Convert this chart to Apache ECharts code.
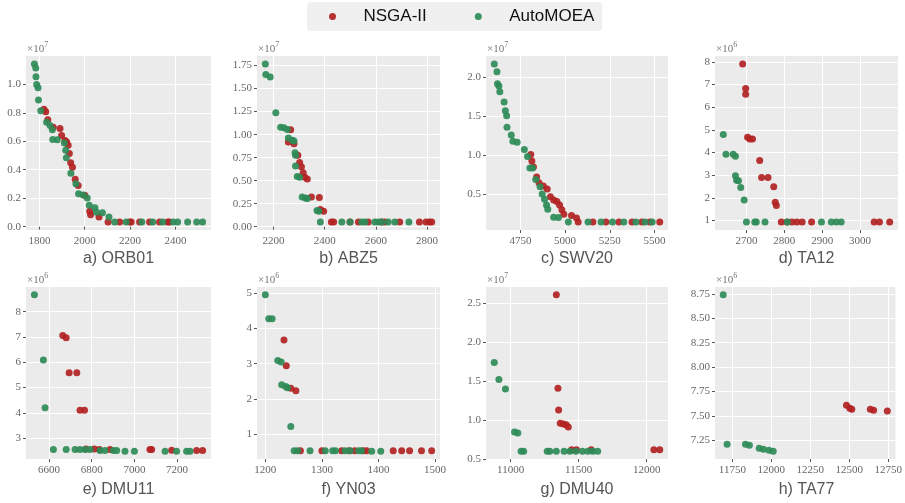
<!DOCTYPE html>
<html><head><meta charset="utf-8">
<script src="https://cdn.jsdelivr.net/npm/echarts@6/dist/echarts.min.js"></script>
<style>html,body{margin:0;padding:0;background:#fff}#c{width:905px;height:503px}</style>
</head><body><div id="c"></div>
<script>
// ---------- DATA (y values in units of the panel's exponent) ----------
const panelTitles = ['a) ORB01','b) ABZ5','c) SWV20','d) TA12','e) DMU11','f) YN03','g) DMU40','h) TA77'];
const panelExponents = [7,7,7,6,6,6,7,6];
const seriesNames = ['NSGA-II','AutoMOEA'];

const orb01Nsga = [[1820,0.826],[1828,0.808],[1837,0.752],[1861,0.699],[1891,0.690],[1898,0.641],[1913,0.606],[1920,0.595],[1927,0.572],[1932,0.514],[1938,0.449],[1946,0.417],[1958,0.333],[1971,0.289],[2000,0.220],[2022,0.109],[2026,0.083],[2063,0.067],[2103,0.032],[2154,0.032],[2198,0.032],[2205,0.032],[2242,0.032],[2286,0.032],[2330,0.032],[2366,0.032],[2374,0.032]];
const orb01Auto = [[1778,1.144],[1784,1.116],[1785,1.053],[1788,1.0],[1794,0.977],[1796,0.891],[1806,0.815],[1832,0.734],[1847,0.711],[1857,0.681],[1859,0.613],[1879,0.611],[1910,0.588],[1916,0.537],[1919,0.484],[1939,0.375],[1961,0.301],[1973,0.231],[1993,0.222],[2011,0.201],[2020,0.150],[2045,0.132],[2052,0.102],[2078,0.097],[2107,0.067],[2132,0.032],[2183,0.032],[2252,0.032],[2300,0.032],[2344,0.032],[2391,0.032],[2410,0.032],[2454,0.032],[2494,0.032],[2520,0.032]];

const abz5Nsga = [[2267,1.052],[2258,0.920],[2280,0.902],[2295,0.777],[2302,0.698],[2309,0.651],[2316,0.587],[2322,0.537],[2332,0.519],[2348,0.322],[2379,0.318],[2383,0.186],[2396,0.168],[2426,0.050],[2435,0.050],[2499,0.050],[2532,0.050],[2570,0.050],[2622,0.050],[2635,0.050],[2693,0.050],[2770,0.050],[2796,0.050],[2809,0.050],[2818,0.050]];
const abz5Auto = [[2168,1.768],[2170,1.654],[2187,1.625],[2209,1.238],[2228,1.081],[2241,1.074],[2254,1.056],[2258,0.962],[2274,0.938],[2280,0.931],[2284,0.802],[2286,0.777],[2286,0.659],[2293,0.544],[2302,0.537],[2312,0.322],[2325,0.311],[2332,0.305],[2370,0.175],[2377,0.168],[2383,0.050],[2467,0.050],[2499,0.050],[2545,0.050],[2557,0.050],[2596,0.050],[2609,0.050],[2622,0.050],[2648,0.050],[2674,0.050],[2729,0.050]];

const swv20Nsga = [[4808,1.008],[4814,0.924],[4823,0.847],[4841,0.720],[4854,0.644],[4878,0.602],[4900,0.564],[4918,0.466],[4936,0.424],[4954,0.403],[4969,0.360],[4982,0.297],[4993,0.242],[5036,0.225],[5064,0.191],[5073,0.14],[5155,0.14],[5228,0.14],[5301,0.14],[5374,0.14],[5429,0.14],[5474,0.14],[5529,0.14]];
const swv20Auto = [[4604,2.17],[4619,2.068],[4622,1.915],[4630,1.886],[4635,1.814],[4659,1.682],[4666,1.568],[4673,1.504],[4675,1.356],[4699,1.258],[4708,1.178],[4732,1.165],[4772,1.072],[4790,0.983],[4803,0.835],[4818,0.835],[4836,0.686],[4860,0.593],[4872,0.5],[4885,0.432],[4896,0.360],[4903,0.305],[4936,0.203],[4963,0.199],[5018,0.14],[5128,0.14],[5201,0.14],[5265,0.14],[5328,0.14],[5396,0.14],[5447,0.14],[5487,0.14]];

const ta12Nsga = [[2690,7.91],[2698,6.83],[2698,6.57],[2703,4.67],[2709,4.60],[2716,4.60],[2735,3.65],[2740,2.90],[2757,2.90],[2772,2.49],[2776,1.80],[2779,1.66],[2792,0.93],[2807,0.93],[2820,0.93],[2833,0.93],[2847,0.93],[2872,0.93],[3037,0.93],[3051,0.93],[3078,0.93]];
const ta12Auto = [[2639,4.79],[2646,3.92],[2665,3.92],[2671,3.84],[2671,2.98],[2674,2.78],[2679,2.75],[2685,2.46],[2694,1.90],[2700,0.93],[2722,0.93],[2726,0.93],[2749,0.93],[2808,0.93],[2898,0.93],[2924,0.93],[2937,0.93],[2950,0.93]];

const dmu11Nsga = [[6664,7.06],[6680,6.97],[6694,5.58],[6730,5.58],[6745,4.10],[6766,4.10],[6773,2.57],[6812,2.57],[6836,2.55],[6886,2.55],[7073,2.55],[7081,2.55],[7175,2.52],[7292,2.51],[7320,2.51]];
const dmu11Auto = [[6531,8.67],[6573,6.09],[6581,4.20],[6620,2.55],[6680,2.55],[6722,2.55],[6745,2.55],[6769,2.55],[6792,2.55],[6839,2.51],[6862,2.51],[6902,2.51],[6917,2.51],[6956,2.48],[7000,2.48],[7144,2.48],[7198,2.48],[7245,2.48],[7261,2.48]];

const yn03Nsga = [[1233,3.67],[1237,2.94],[1245,2.30],[1254,2.23],[1262,0.53],[1300,0.53],[1335,0.53],[1348,0.53],[1358,0.53],[1373,0.53],[1379,0.53],[1426,0.53],[1441,0.53],[1455,0.53],[1476,0.53],[1494,0.53]];
const yn03Auto = [[1200,4.95],[1206,4.27],[1212,4.27],[1222,3.09],[1228,3.05],[1229,2.40],[1236,2.35],[1239,2.32],[1245,1.22],[1251,0.53],[1257,0.53],[1279,0.53],[1306,0.53],[1319,0.53],[1324,0.53],[1341,0.53],[1350,0.53],[1365,0.53],[1370,0.53],[1388,0.52],[1404,0.52]];

const dmu40Nsga = [[11336,2.61],[11348,1.41],[11353,1.13],[11365,0.958],[11388,0.95],[11408,0.94],[11424,0.91],[11448,0.62],[11484,0.62],[11592,0.62],[12053,0.62],[12096,0.62]];
const dmu40Auto = [[10880,1.74],[10914,1.52],[10962,1.40],[11029,0.846],[11053,0.833],[11077,0.60],[11096,0.60],[11269,0.60],[11288,0.60],[11336,0.60],[11393,0.60],[11436,0.60],[11480,0.60],[11528,0.60],[11568,0.60],[11604,0.60],[11640,0.60]];

const ta77Nsga = [[12482,7.61],[12503,7.58],[12516,7.57],[12635,7.57],[12656,7.56],[12744,7.55]];
const ta77Auto = [[11691,8.74],[11716,7.21],[11834,7.21],[11859,7.20],[11922,7.17],[11949,7.16],[11985,7.15],[12012,7.14]];

// tick labels
const xTicksA = [1800,2000,2200,2400];      const yTicksA = [0,0.2,0.4,0.6,0.8,1.0];
const xTicksB = [2200,2400,2600,2800];      const yTicksB = [0,0.25,0.5,0.75,1.0,1.25,1.5,1.75];
const xTicksC = [4750,5000,5250,5500];      const yTicksC = [0.5,1.0,1.5,2.0];
const xTicksD = [2700,2800,2900,3000];      const yTicksD = [1,2,3,4,5,6,7,8];
const xTicksE = [6600,6800,7000,7200];      const yTicksE = [3,4,5,6,7,8];
const xTicksF = [1200,1300,1400,1500];      const yTicksF = [1,2,3,4,5];
const xTicksG = [11000,11500,12000];        const yTicksG = [0.5,1.0,1.5,2.0,2.5];
const xTicksH = [11750,12000,12250,12500,12750]; const yTicksH = [7.25,7.5,7.75,8.0,8.25,8.5,8.75];
const yDecimals = [1,2,1,0,0,0,1,2];

// ---------- ASSEMBLY ----------
const nsgaSets = [orb01Nsga,abz5Nsga,swv20Nsga,ta12Nsga,dmu11Nsga,yn03Nsga,dmu40Nsga,ta77Nsga];
const autoSets = [orb01Auto,abz5Auto,swv20Auto,ta12Auto,dmu11Auto,yn03Auto,dmu40Auto,ta77Auto];
const xTickSets = [xTicksA,xTicksB,xTicksC,xTicksD,xTicksE,xTicksF,xTicksG,xTicksH];
const yTickSets = [yTicksA,yTicksB,yTicksC,yTicksD,yTicksE,yTicksF,yTicksG,yTicksH];

const colLeft = [26,257,486,715];
const colWidth = [185,183,182,183];
const rowTop = [56,287];
const rowHeight = [174,172];
const titleY = [259,490];

const RED = '#B22222', GREEN = '#2E8B57';
const labelFont = 'Liberation Serif';

function padExtent(vals){
  const mn = Math.min(...vals), mx = Math.max(...vals);
  const m = (mx - mn) * 0.05;
  return [mn - m, mx + m];
}

const grids = [], xAxes = [], yAxes = [], series = [], graphics = [];
for (let i = 0; i < 8; i++) {
  const r = Math.floor(i / 4), c = i % 4;
  grids.push({left: colLeft[c], top: rowTop[r], width: colWidth[c], height: rowHeight[r],
    show: true, backgroundColor: '#EBEBEB', borderWidth: 0, containLabel: false});
  const all = nsgaSets[i].concat(autoSets[i]);
  const xe = padExtent(all.map(p => p[0]));
  const ye = padExtent(all.map(p => p[1]));
  const dec = yDecimals[i];
  xAxes.push({type: 'value', gridIndex: i, min: xe[0], max: xe[1],
    axisLine: {show: false},
    axisTick: {show: true, length: 3, lineStyle: {color: '#555'}, customValues: xTickSets[i]},
    axisLabel: {customValues: xTickSets[i], margin: 6, color: '#666', fontFamily: labelFont, fontSize: 11,
      formatter: v => String(Math.round(v))},
    splitLine: {show: true, lineStyle: {color: '#fff', width: 1}}});
  yAxes.push({type: 'value', gridIndex: i, min: ye[0], max: ye[1],
    axisLine: {show: false},
    axisTick: {show: true, length: 3, lineStyle: {color: '#555'}, customValues: yTickSets[i]},
    axisLabel: {customValues: yTickSets[i], margin: 5, color: '#666', fontFamily: labelFont, fontSize: 11,
      formatter: v => Number(v).toFixed(dec)},
    splitLine: {show: true, lineStyle: {color: '#fff', width: 1}}});
  series.push({type: 'scatter', name: seriesNames[0], xAxisIndex: i, yAxisIndex: i, data: nsgaSets[i],
    symbolSize: 7, itemStyle: {color: RED, opacity: 0.92}, z: 2});
  series.push({type: 'scatter', name: seriesNames[1], xAxisIndex: i, yAxisIndex: i, data: autoSets[i],
    symbolSize: 7, itemStyle: {color: GREEN, opacity: 0.92}, z: 3});
  // exponent label
  graphics.push({type: 'text', x: colLeft[c] + 1, y: rowTop[r] - 1,
    style: {text: '{m|×10}{s|' + panelExponents[i] + '}', align: 'left', verticalAlign: 'bottom',
      rich: {m: {fontFamily: labelFont, fontSize: 11, fill: '#777', verticalAlign: 'bottom', lineHeight: 14},
             s: {fontFamily: labelFont, fontSize: 8, fill: '#777', verticalAlign: 'top', lineHeight: 14}}}});
  // subtitle
  graphics.push({type: 'text', x: colLeft[c] + colWidth[c] / 2, y: titleY[r],
    style: {text: panelTitles[i], align: 'center', verticalAlign: 'middle',
      font: '16px "Liberation Sans"', fill: '#555'}});
}

const chart = echarts.init(document.getElementById('c'), null, {renderer: 'canvas'});
chart.setOption({
  animation: false,
  backgroundColor: '#fff',
  legend: {
    data: seriesNames, left: 307, top: 2, icon: 'circle',
    itemWidth: 20, itemHeight: 7, itemGap: 48,
    padding: [6, 8, 6, 22],
    backgroundColor: '#F0F0F0', borderRadius: 4,
    textStyle: {fontFamily: 'Liberation Sans', fontSize: 17, color: '#111',
      rich: {t: {fontFamily: 'Liberation Sans', fontSize: 17, color: '#111', padding: [0,0,0,16]}}},
    formatter: n => '{t|' + n + '}'
  },
  grid: grids, xAxis: xAxes, yAxis: yAxes, series: series, graphic: graphics
});
</script></body></html>
